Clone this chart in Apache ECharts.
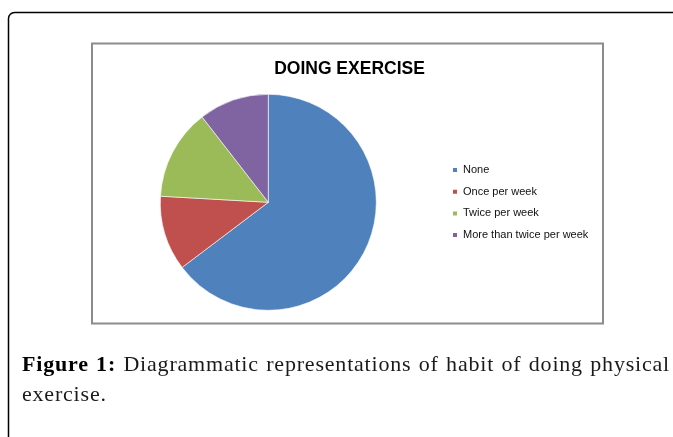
<!DOCTYPE html>
<html>
<head>
<meta charset="utf-8">
<script src="https://cdn.jsdelivr.net/npm/echarts@6/dist/echarts.min.js"></script>
<style>
  html, body { margin: 0; padding: 0; background: #fff; }
  #chart { width: 673px; height: 437px; position: absolute; left: 0; top: 0; }
  .cap {
    position: absolute; left: 22px; width: 648px;
    font-family: "Liberation Serif", "DejaVu Serif", serif; font-size: 22px;
    line-height: 30px; color: #1a1a1a; letter-spacing: 0.8px; white-space: nowrap;
  }
  #cap1 { top: 349px; text-align: justify; text-align-last: justify; white-space: normal; }
  #cap2 { top: 379px; }
  .cap b { color: #000; }
</style>
</head>
<body>
<div id="chart"></div>
<div class="cap" id="cap1"><b>Figure 1:</b> Diagrammatic representations of habit of doing physical</div>
<div class="cap" id="cap2">exercise.</div>
<script>
const chartTitle = 'DOING EXERCISE';
const categories = ['None', 'Once per week', 'Twice per week', 'More than twice per week'];
const values = [64.7, 11.2, 13.6, 10.5];
const colors = ['#4F81BD', '#C0504D', '#9BBB59', '#8064A2'];

const chart = echarts.init(document.getElementById('chart'), null, { renderer: 'canvas' });
chart.setOption({
  animation: false,
  color: colors,
  title: {
    text: chartTitle,
    left: 349.5, top: 60, textAlign: 'center', padding: 0,
    textStyle: { fontFamily: 'Liberation Sans', fontWeight: 'bold', fontSize: 17.5, color: '#000' }
  },
  legend: {
    orient: 'vertical',
    left: 451, top: 164, padding: 0,
    icon: 'rect', itemWidth: 6, itemHeight: 6, itemGap: 9.7,
    textStyle: { fontFamily: 'Liberation Sans', fontSize: 11, color: '#111', lineHeight: 12 },
    data: categories
  },
  graphic: [
    { type: 'rect', shape: { x: 8.5, y: 12.5, width: 700, height: 500, r: 6 },
      style: { fill: 'none', stroke: '#000', lineWidth: 1.5 }, z: -10 },
    { type: 'rect', shape: { x: 92, y: 43.5, width: 511, height: 280 },
      style: { fill: '#fff', stroke: '#8c8c8c', lineWidth: 2 }, z: -5 }
  ],
  series: [{
    type: 'pie',
    center: [268.3, 202.3],
    radius: 108,
    startAngle: 90,
    clockwise: true,
    label: { show: false },
    labelLine: { show: false },
    itemStyle: { borderColor: '#ffffff', borderWidth: 0.6 },
    emphasis: { disabled: true },
    data: categories.map((c, i) => ({ name: c, value: values[i] }))
  }]
});
</script>
</body>
</html>
